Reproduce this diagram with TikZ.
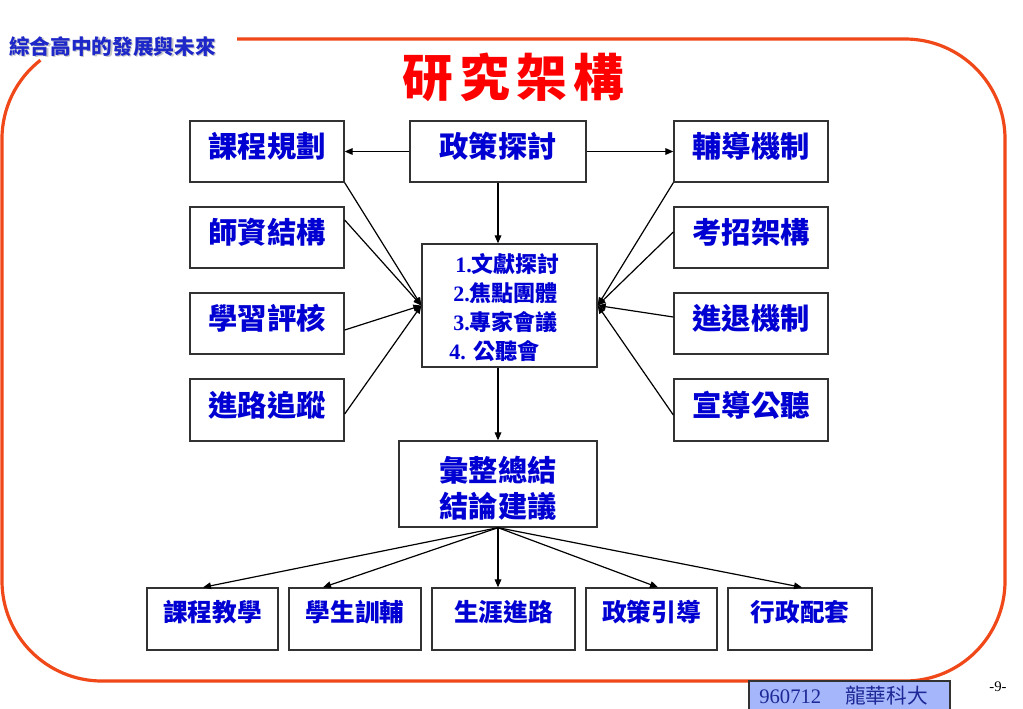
\documentclass[tikz,border=0pt]{standalone}
\usepackage{fontspec}
\setmainfont{Liberation Serif}
\newfontfamily\cjk{Noto Sans CJK TC}
\usetikzlibrary{arrows.meta,calc}
\definecolor{frameRed}{RGB}{240,72,24}
\definecolor{txtBlue}{RGB}{0,0,210}
\definecolor{headBlue}{RGB}{30,40,200}
\definecolor{footFill}{RGB}{165,182,250}
\definecolor{footText}{RGB}{30,40,150}
\definecolor{boxDraw}{RGB}{50,50,50}
\tikzset{
  box/.style={draw=boxDraw, line width=1pt, fill=white, inner sep=0pt},
  lbl/.style={text=txtBlue, inner sep=0pt, font=\cjk\bfseries\fontsize{22pt}{27pt}\selectfont},
  lbls/.style={text=txtBlue, inner sep=0pt, font=\cjk\bfseries\fontsize{18.5pt}{22pt}\selectfont},
  conn/.style={draw=black, line width=0.9pt, -{Triangle[length=6pt,width=5pt]}}
}
\newcommand\mkbox[5]{\node[box, minimum width={(#4-#2)*0.75pt}, minimum height={(#5-#3)*0.75pt}] (#1) at ({(#2+#4)/2},{(#3+#5)/2}) {};}
\newcommand\shadowtext[4]{\rlap{\hspace{#2}\raisebox{-#2}{\textcolor{#3}{#1}}}\textcolor{#4}{#1}}
\begin{document}
\begin{tikzpicture}[x=0.75pt,y=-0.75pt]
\useasboundingbox (0,0) rectangle (1023,708);
\fill[white] (0,0) rectangle (1023,708);
% frame
\draw[frameRed, line width=2.4pt] (40.4,60.2) arc[start angle=128,end angle=180,radius=75pt]
  -- (2,581) arc[start angle=180,end angle=270,radius=75pt]
  -- (905,681) arc[start angle=270,end angle=360,radius=75pt]
  -- (1005,139) arc[start angle=0,end angle=90,radius=75pt]
  -- (237,39);
% header and title
\node[anchor=west, inner sep=0pt, font=\cjk\bfseries\fontsize{15.5pt}{18pt}\selectfont] (hd) at (9,47) {\shadowtext{綜合高中的發展與未來}{1pt}{gray!45}{headBlue}};
\node[inner sep=0pt, text=red, font=\cjk\bfseries\fontsize{38pt}{44pt}\selectfont] (tt) at (513,77) {研\hspace{4.7pt}究\hspace{4.7pt}架\hspace{4.7pt}構};
% boxes
\mkbox{kc}{190}{121}{344}{182}
\mkbox{zc}{410}{121}{586}{182}
\mkbox{fd}{674}{121}{828}{182}
\mkbox{sz}{190}{207}{344}{268}
\mkbox{kz}{674}{207}{828}{268}
\mkbox{xx}{190}{293}{344}{354}
\mkbox{jt}{674}{293}{828}{354}
\mkbox{jl}{190}{379}{344}{441}
\mkbox{xd}{674}{379}{828}{441}
\mkbox{ct}{422}{244}{597}{367}
\mkbox{hz}{399}{441}{597}{527}
\mkbox{b1}{147}{588}{278}{650}
\mkbox{b2}{289}{588}{421}{650}
\mkbox{b3}{432}{588}{575}{650}
\mkbox{b4}{586}{588}{717}{650}
\mkbox{b5}{728}{588}{872}{650}
% connectors
\draw[conn] (zc.west) -- (kc.east);
\draw[conn] (zc.east) -- (fd.west);
\draw[conn] (zc.south) -- (zc.south |- ct.north);
\draw[conn] (hz.north |- ct.south) -- (hz.north);
\draw[conn] (kc.south east) -- (ct.west);
\draw[conn] ($(sz.east)+(0,-17.5)$) -- (ct.west);
\draw[conn] ($(xx.east)+(0,6.5)$) -- (ct.west);
\draw[conn] ($(jl.east)+(0,4)$) -- (ct.west);
\draw[conn] (fd.south west) -- (ct.east);
\draw[conn] ($(kz.west)+(0,-5.5)$) -- (ct.east);
\draw[conn] ($(jt.west)+(0,-6.5)$) -- (ct.east);
\draw[conn] ($(xd.west)+(0,5)$) -- (ct.east);
\draw[conn] (hz.south) -- ($(b1.north)+(-9.5,0)$);
\draw[conn] (hz.south) -- ($(b2.north)+(-32,0)$);
\draw[conn] (hz.south) -- ($(b3.north)+(-5.5,0)$);
\draw[conn] (hz.south) -- ($(b4.north)+(6.5,0)$);
\draw[conn] (hz.south) -- ($(b5.north)+(2,0)$);
% labels
\node[lbl] (kct) at ($(kc)+(0,-5)$) {課程規劃};
\node[lbl] (zct) at ($(zc)+(0,-5)$) {政策探討};
\node[lbl] (fdt) at ($(fd)+(0,-5)$) {輔導機制};
\node[lbl] (szt) at ($(sz)+(0,-5)$) {師資結構};
\node[lbl] (kzt) at ($(kz)+(0,-5)$) {考招架構};
\node[lbl] (xxt) at ($(xx)+(0,-5)$) {學習評核};
\node[lbl] (jtt) at ($(jt)+(0,-5)$) {進退機制};
\node[lbl] (jlt) at ($(jl)+(0,-5)$) {進路追蹤};
\node[lbl] (xdt) at ($(xd)+(0,-5)$) {宣導公聽};
\node[lbl, align=center] (hzt) at ($(hz)+(0,4)$) {彙整總結\\結論建議};
\node[anchor=west, align=left, text=txtBlue, inner sep=0pt, font=\bfseries\fontsize{16.5pt}{21.75pt}\selectfont] (ctt) at (449,308)
  {\hspace*{4.5pt}1.{\cjk\bfseries 文獻探討}\\\hspace*{3pt}2.{\cjk\bfseries 焦點團體}\\\hspace*{3pt}3.{\cjk\bfseries 專家會議}\\4. {\cjk\bfseries 公聽會}};
\node[lbls] (b1t) at ($(b1)+(0,-7)$) {課程教學};
\node[lbls] (b2t) at ($(b2)+(0,-7)$) {學生訓輔};
\node[lbls] (b3t) at ($(b3)+(0,-7)$) {生涯進路};
\node[lbls] (b4t) at ($(b4)+(0,-7)$) {政策引導};
\node[lbls] (b5t) at ($(b5)+(0,-7)$) {行政配套};
% footer
\node[draw=boxDraw, fill=footFill, line width=0.8pt, inner sep=0pt, minimum width={201*0.75pt}, minimum height={31*0.75pt}] (ft) at (849.5,696.5) {};
\node[anchor=base west, text=footText, inner sep=0pt, font=\fontsize{15.5pt}{18pt}\selectfont] (ftt) at (759,703) {960712\hspace{18pt}{\cjk 龍華科大}};
\node[inner sep=0pt, font=\fontsize{11pt}{13pt}\selectfont] (pg) at (998,687) {-9-};
\end{tikzpicture}
\end{document}
